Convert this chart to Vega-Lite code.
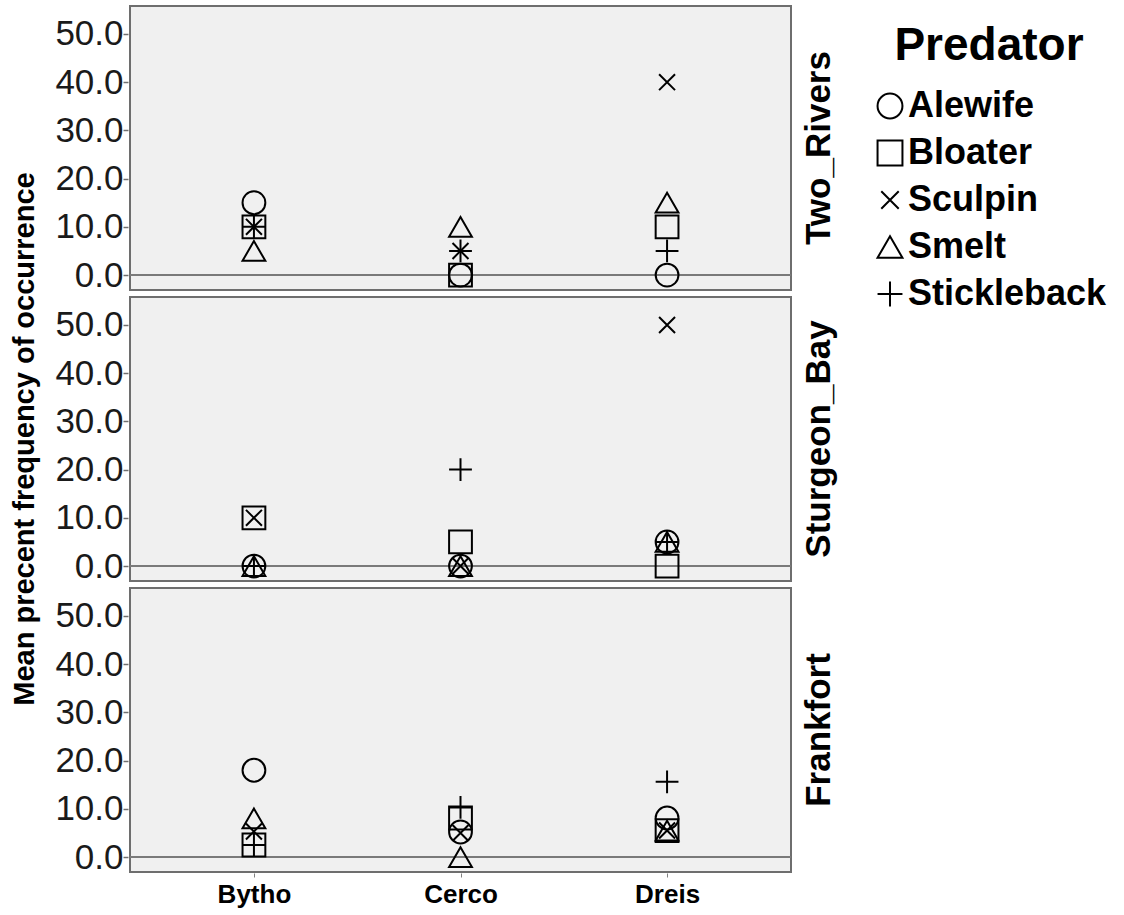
{
  "$schema": "https://vega.github.io/schema/vega-lite/v6.json",
  "padding": {"left": 10, "top": 5, "right": 5, "bottom": 5},
  "background": "white",
  "data": {
    "values": [
      {"Site": "Two_Rivers", "Prey": "Bytho", "Predator": "Alewife", "Freq": 15},
      {"Site": "Two_Rivers", "Prey": "Bytho", "Predator": "Bloater", "Freq": 10},
      {"Site": "Two_Rivers", "Prey": "Bytho", "Predator": "Sculpin", "Freq": 10},
      {"Site": "Two_Rivers", "Prey": "Bytho", "Predator": "Smelt", "Freq": 5},
      {"Site": "Two_Rivers", "Prey": "Bytho", "Predator": "Stickleback", "Freq": 10},
      {"Site": "Two_Rivers", "Prey": "Cerco", "Predator": "Alewife", "Freq": 0},
      {"Site": "Two_Rivers", "Prey": "Cerco", "Predator": "Bloater", "Freq": 0},
      {"Site": "Two_Rivers", "Prey": "Cerco", "Predator": "Sculpin", "Freq": 5},
      {"Site": "Two_Rivers", "Prey": "Cerco", "Predator": "Smelt", "Freq": 10},
      {"Site": "Two_Rivers", "Prey": "Cerco", "Predator": "Stickleback", "Freq": 5},
      {"Site": "Two_Rivers", "Prey": "Dreis", "Predator": "Alewife", "Freq": 0},
      {"Site": "Two_Rivers", "Prey": "Dreis", "Predator": "Bloater", "Freq": 10},
      {"Site": "Two_Rivers", "Prey": "Dreis", "Predator": "Sculpin", "Freq": 40},
      {"Site": "Two_Rivers", "Prey": "Dreis", "Predator": "Smelt", "Freq": 15},
      {"Site": "Two_Rivers", "Prey": "Dreis", "Predator": "Stickleback", "Freq": 5},
      {"Site": "Sturgeon_Bay", "Prey": "Bytho", "Predator": "Alewife", "Freq": 0},
      {"Site": "Sturgeon_Bay", "Prey": "Bytho", "Predator": "Bloater", "Freq": 10},
      {"Site": "Sturgeon_Bay", "Prey": "Bytho", "Predator": "Sculpin", "Freq": 10},
      {"Site": "Sturgeon_Bay", "Prey": "Bytho", "Predator": "Smelt", "Freq": 0},
      {"Site": "Sturgeon_Bay", "Prey": "Bytho", "Predator": "Stickleback", "Freq": 0},
      {"Site": "Sturgeon_Bay", "Prey": "Cerco", "Predator": "Alewife", "Freq": 0},
      {"Site": "Sturgeon_Bay", "Prey": "Cerco", "Predator": "Bloater", "Freq": 5},
      {"Site": "Sturgeon_Bay", "Prey": "Cerco", "Predator": "Sculpin", "Freq": 0},
      {"Site": "Sturgeon_Bay", "Prey": "Cerco", "Predator": "Smelt", "Freq": 0},
      {"Site": "Sturgeon_Bay", "Prey": "Cerco", "Predator": "Stickleback", "Freq": 20},
      {"Site": "Sturgeon_Bay", "Prey": "Dreis", "Predator": "Alewife", "Freq": 5},
      {"Site": "Sturgeon_Bay", "Prey": "Dreis", "Predator": "Bloater", "Freq": 0},
      {"Site": "Sturgeon_Bay", "Prey": "Dreis", "Predator": "Sculpin", "Freq": 50},
      {"Site": "Sturgeon_Bay", "Prey": "Dreis", "Predator": "Smelt", "Freq": 5},
      {"Site": "Sturgeon_Bay", "Prey": "Dreis", "Predator": "Stickleback", "Freq": 5},
      {"Site": "Frankfort", "Prey": "Bytho", "Predator": "Alewife", "Freq": 18},
      {"Site": "Frankfort", "Prey": "Bytho", "Predator": "Bloater", "Freq": 2.5},
      {"Site": "Frankfort", "Prey": "Bytho", "Predator": "Sculpin", "Freq": 5.3},
      {"Site": "Frankfort", "Prey": "Bytho", "Predator": "Smelt", "Freq": 8},
      {"Site": "Frankfort", "Prey": "Bytho", "Predator": "Stickleback", "Freq": 2.5},
      {"Site": "Frankfort", "Prey": "Cerco", "Predator": "Alewife", "Freq": 5.2},
      {"Site": "Frankfort", "Prey": "Cerco", "Predator": "Bloater", "Freq": 8.1},
      {"Site": "Frankfort", "Prey": "Cerco", "Predator": "Sculpin", "Freq": 5},
      {"Site": "Frankfort", "Prey": "Cerco", "Predator": "Smelt", "Freq": 0},
      {"Site": "Frankfort", "Prey": "Cerco", "Predator": "Stickleback", "Freq": 10.3},
      {"Site": "Frankfort", "Prey": "Dreis", "Predator": "Alewife", "Freq": 8.1},
      {"Site": "Frankfort", "Prey": "Dreis", "Predator": "Bloater", "Freq": 5.5},
      {"Site": "Frankfort", "Prey": "Dreis", "Predator": "Sculpin", "Freq": 5.5},
      {"Site": "Frankfort", "Prey": "Dreis", "Predator": "Smelt", "Freq": 5.5},
      {"Site": "Frankfort", "Prey": "Dreis", "Predator": "Stickleback", "Freq": 15.6}
    ]
  },
  "facet": {
    "row": {
      "field": "Site",
      "type": "nominal",
      "sort": ["Two_Rivers", "Sturgeon_Bay", "Frankfort"],
      "header": {
        "title": "Mean precent frequency of occurrence",
        "titleOrient": "left",
        "titleFont": "Liberation Sans",
        "titleFontSize": 29,
        "titleFontWeight": "bold",
        "titleColor": "black",
        "titlePadding": 4,
        "labelOrient": "right",
        "labelAngle": -90,
        "labelFont": "Liberation Sans",
        "labelFontSize": 35,
        "labelFontWeight": "bold",
        "labelColor": "black",
        "labelPadding": -9,
        "labelLimit": 400
      }
    }
  },
  "spacing": 4,
  "spec": {
    "width": 661,
    "height": 284,
    "layer": [
      {
        "transform": [{"filter": "datum.Predator == 'Alewife' && datum.Prey == 'Bytho'"}],
        "mark": {"type": "rule", "color": "#7a7a7a", "strokeWidth": 2},
        "encoding": {"y": {"datum": 0, "type": "quantitative"}}
      },
      {
        "mark": {"type": "point", "filled": false, "color": "black", "strokeWidth": 2, "opacity": 1, "size": 520},
        "encoding": {
          "x": {
            "field": "Prey",
            "type": "nominal",
            "scale": {"type": "point", "padding": 0.6},
            "axis": {
              "title": null,
              "labelAngle": 0,
              "labelFont": "Liberation Sans",
              "labelFontSize": 26,
              "labelFontWeight": "bold",
              "labelColor": "black",
              "labelPadding": 4,
              "domain": false,
              "tickColor": "#808080",
              "tickSize": 4
            }
          },
          "y": {
            "field": "Freq",
            "type": "quantitative",
            "scale": {"domain": [-3.1, 55.8], "nice": false, "zero": false},
            "axis": {
              "title": null,
              "values": [0, 10, 20, 30, 40, 50],
              "format": ".1f",
              "grid": false,
              "domain": false,
              "labelFont": "Liberation Sans",
              "labelFontSize": 35,
              "labelColor": "#1a1a1a",
              "labelPadding": 0,
              "tickColor": "#707070",
              "tickSize": 5,
              "tickWidth": 1.5
            }
          },
          "shape": {
            "field": "Predator",
            "type": "nominal",
            "scale": {
              "domain": ["Alewife", "Bloater", "Sculpin", "Smelt", "Stickleback"],
              "range": ["circle", "square", "M-0.7,-0.7L0.7,0.7M-0.7,0.7L0.7,-0.7", "triangle-up", "M-1,0L1,0M0,-1L0,1"]
            },
            "legend": {
              "orient": "none",
              "legendX": 742,
              "legendY": 18,
              "title": "Predator",
              "titleFont": "Liberation Sans",
              "titleFontSize": 46,
              "titleFontWeight": "bold",
              "titleColor": "black",
              "titleAnchor": "middle",
              "titleLimit": 400,
              "titlePadding": 18,
              "labelFont": "Liberation Sans",
              "labelFontSize": 36,
              "labelFontWeight": "bold",
              "labelColor": "black",
              "labelOffset": 0,
              "labelLimit": 400,
              "symbolSize": 620,
              "symbolStrokeColor": "black",
              "symbolStrokeWidth": 2,
              "symbolFillColor": "transparent",
              "rowPadding": 11
            }
          }
        }
      }
    ]
  },
  "config": {
    "view": {"fill": "#f0f0f0", "stroke": "#6e6e6e", "strokeWidth": 2},
    "font": "Liberation Sans"
  }
}
